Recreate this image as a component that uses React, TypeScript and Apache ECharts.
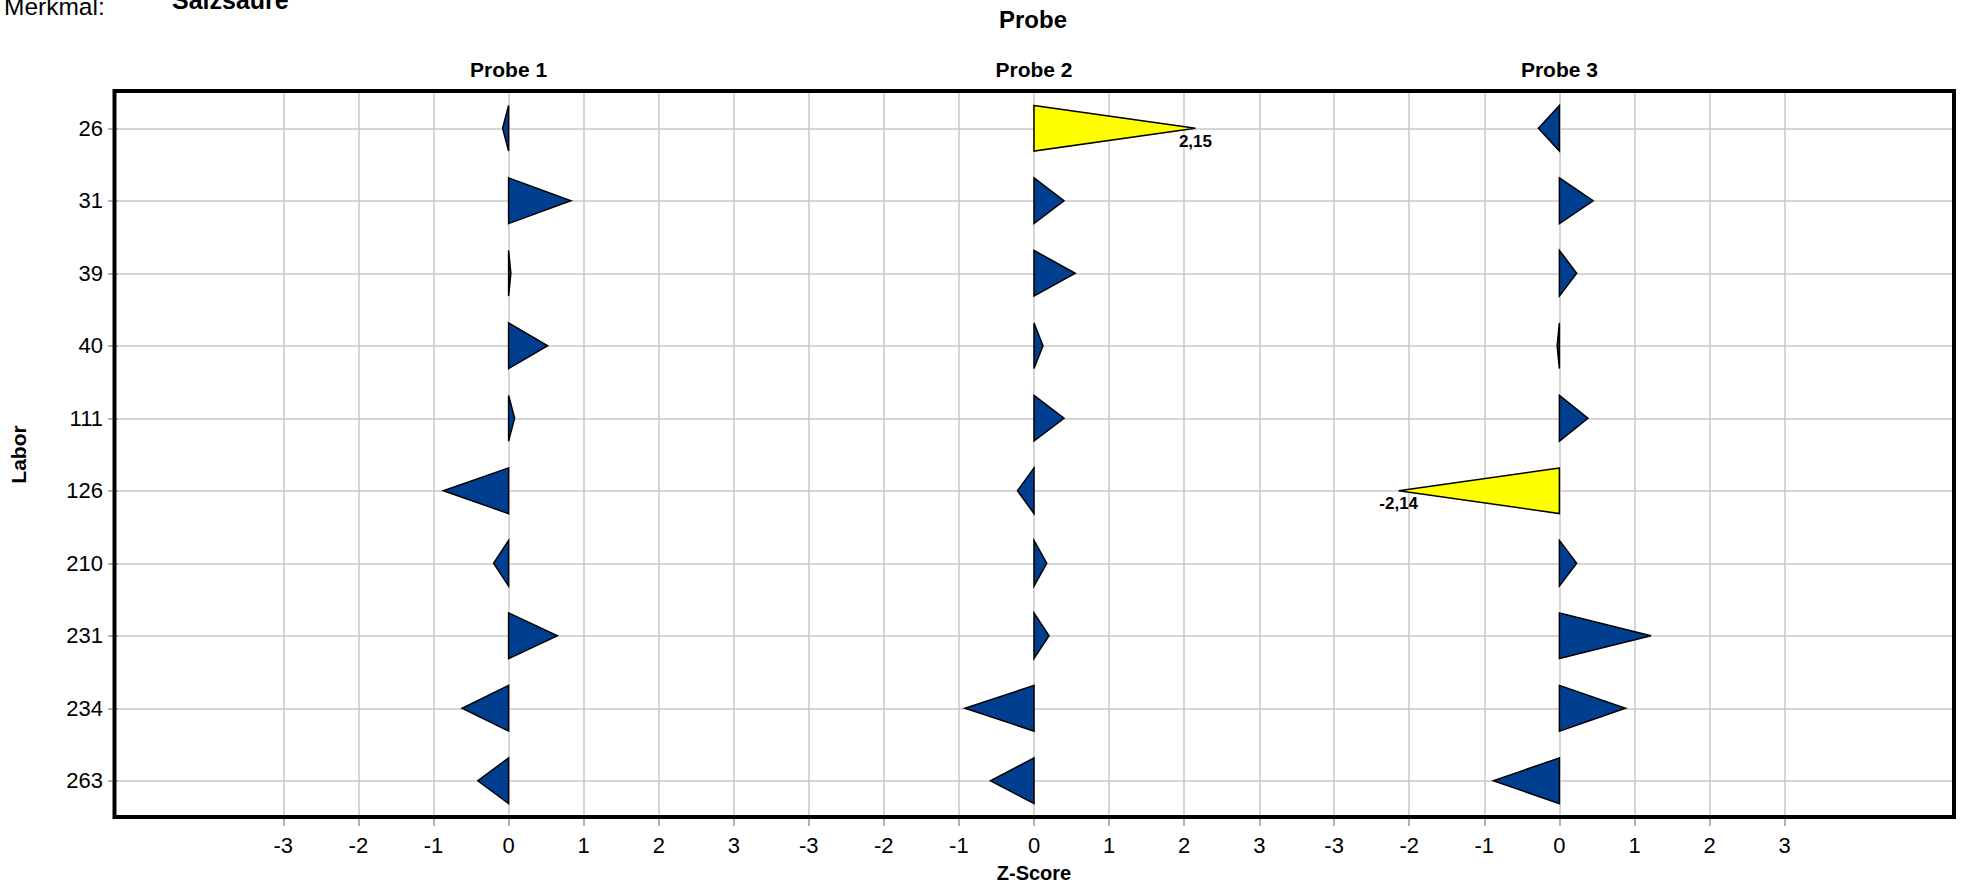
import React, { useEffect, useRef } from "react";
import * as echarts from "echarts";

// ---- data ----
const labore = ["26", "31", "39", "40", "111", "126", "210", "231", "234", "263"];
const probeNames = ["Probe 1", "Probe 2", "Probe 3"];
const probe1 = [-0.08, 0.83, 0.03, 0.52, 0.08, -0.87, -0.2, 0.65, -0.62, -0.41];
const probe2 = [2.15, 0.4, 0.55, 0.12, 0.4, -0.22, 0.17, 0.2, -0.92, -0.58];
const probe3 = [-0.28, 0.45, 0.23, -0.03, 0.38, -2.14, 0.23, 1.22, 0.88, -0.88];
const probeValues = [probe1, probe2, probe3];
const zMin = -3;
const zMax = 3;
const limit = 2;

// ---- layout ----
const FONT = "'Liberation Sans', Arial, sans-serif";
const PLOT_LEFT = 114;
const PLOT_RIGHT = 1954;
const PLOT_TOP = 92;
const PLOT_BOTTOM = 817;
const UNIT = 75.1;
const PANEL_ZERO = [508.6, 1034, 1559.4];
const GRID_COLOR = "#c8c8c8";
const TICK_COLOR = "#999999";

const fmt = (v: number) => v.toFixed(2).replace(".", ",");

export default function App() {
  const ref = useRef<HTMLDivElement>(null);

  useEffect(() => {
    if (!ref.current) return;
    const chart = echarts.init(ref.current, null, { renderer: "svg" });
    const rowH = (PLOT_BOTTOM - PLOT_TOP) / labore.length;

    const grids: any[] = [
      {
        left: PLOT_LEFT,
        top: PLOT_TOP + rowH / 2,
        width: PLOT_RIGHT - PLOT_LEFT,
        height: rowH * (labore.length - 1),
      },
    ];
    const xAxes: any[] = [{ gridIndex: 0, type: "value", show: false }];
    const yAxes: any[] = [
      {
        gridIndex: 0,
        type: "category",
        data: labore,
        inverse: true,
        boundaryGap: false,
        axisLine: { show: false },
        axisTick: { show: true, length: 10, lineStyle: { color: TICK_COLOR, width: 1.5 } },
        axisLabel: { fontSize: 22, color: "#000", margin: 15, fontFamily: FONT },
        splitLine: { show: true, lineStyle: { color: GRID_COLOR, width: 1.5 } },
        name: "Labor",
        nameLocation: "middle",
        nameGap: 89,
        nameRotate: 90,
        nameTextStyle: { fontSize: 21, fontWeight: "bold", color: "#000", fontFamily: FONT },
      },
    ];
    const series: any[] = [];

    probeValues.forEach((vals, i) => {
      grids.push({
        left: PANEL_ZERO[i] + zMin * UNIT,
        top: PLOT_TOP,
        width: (zMax - zMin) * UNIT,
        height: PLOT_BOTTOM - PLOT_TOP,
      });
      xAxes.push({
        gridIndex: i + 1,
        type: "value",
        min: zMin,
        max: zMax,
        interval: 1,
        position: "bottom",
        axisLine: { show: false },
        axisTick: { show: true, length: 9, lineStyle: { color: TICK_COLOR, width: 1.5 } },
        axisLabel: { fontSize: 22, color: "#000", margin: 17, fontFamily: FONT },
        splitLine: { show: true, lineStyle: { color: GRID_COLOR, width: 1.5 } },
      });
      yAxes.push({
        gridIndex: i + 1,
        type: "category",
        data: labore,
        inverse: true,
        boundaryGap: true,
        show: false,
      });
      series.push({
        type: "custom",
        name: probeNames[i],
        xAxisIndex: i + 1,
        yAxisIndex: i + 1,
        data: vals.map((v, j) => [v, j]),
        renderItem: (params: any, api: any) => {
          const z = api.value(0);
          const idx = api.value(1);
          const base = api.coord([0, idx]);
          const tip = api.coord([z, idx]);
          const h = api.size([0, 1])[1] * 0.315;
          const out = Math.abs(z) > limit;
          const children: any[] = [
            {
              type: "polygon",
              shape: {
                points: [
                  [base[0], base[1] - h],
                  [tip[0], tip[1]],
                  [base[0], base[1] + h],
                ],
              },
              style: {
                fill: out ? "#FFFF00" : "#003F8F",
                stroke: "#000",
                lineWidth: 1.5,
              },
            },
          ];
          if (out) {
            children.push({
              type: "text",
              x: tip[0],
              y: tip[1] + 13,
              style: {
                text: fmt(z),
                align: "center",
                verticalAlign: "middle",
                textAlign: "center",
                textVerticalAlign: "middle",
                fontSize: 17,
                fontWeight: "bold",
                fontFamily: FONT,
                fill: "#000",
              },
            });
          }
          return { type: "group", children };
        },
      });
    });

    const txt = (text: string, x: number, y: number, size: number, bold: boolean, align = "center") => ({
      type: "text",
      x,
      y,
      z: 100,
      style: {
        text,
        align,
        verticalAlign: "middle",
        textAlign: align,
        textVerticalAlign: "middle",
        fontSize: size,
        fontWeight: bold ? "bold" : "normal",
        fontFamily: FONT,
        fill: "#000",
      },
    });

    const graphic: any[] = [
      {
        type: "rect",
        z: 100,
        shape: {
          x: PLOT_LEFT + 0.5,
          y: PLOT_TOP - 1,
          width: PLOT_RIGHT - PLOT_LEFT - 0.5,
          height: PLOT_BOTTOM - PLOT_TOP + 1,
        },
        style: { fill: "none", stroke: "#000", lineWidth: 4 },
      },
      txt("Merkmal:", 4, 6.5, 24.5, false, "left"),
      txt("Salzsäure", 172, -0.5, 25, true, "left"),
      txt("Probe", 1033, 19, 24, true),
      txt("Z-Score", 1034, 873, 20, true),
      ...probeNames.map((n, i) => txt(n, PANEL_ZERO[i], 69, 21, true)),
    ];

    chart.setOption({
      animation: false,
      backgroundColor: "#fff",
      textStyle: { fontFamily: FONT },
      grid: grids,
      xAxis: xAxes,
      yAxis: yAxes,
      series,
      graphic,
    });
    return () => chart.dispose();
  }, []);

  return (
    <div
      ref={ref}
      style={{ position: "fixed", left: 0, top: 0, width: 1964, height: 891, background: "#fff" }}
    />
  );
}
